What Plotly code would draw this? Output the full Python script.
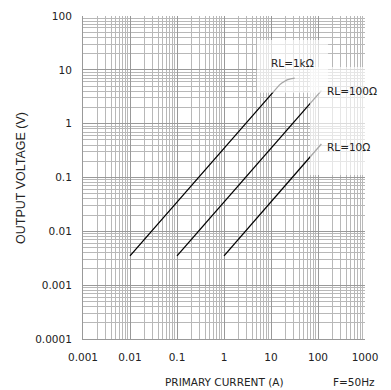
import plotly.graph_objects as go

# Data
x_1k = [0.01, 0.1, 1, 10, 11.5, 13, 15, 17, 19.5, 22, 26, 32]
y_1k = [0.0035, 0.035, 0.35, 3.6, 4.1, 4.6, 5.2, 5.7, 6.1, 6.5, 6.8, 7.0]

x_100 = [0.1, 1, 10, 90, 100, 110, 118]
y_100 = [0.0035, 0.035, 0.35, 3.15, 3.5, 3.85, 4.1]

x_10 = [1, 10, 100, 110, 118]
y_10 = [0.0035, 0.035, 0.35, 0.39, 0.42]

x_ticks = [0.001, 0.01, 0.1, 1, 10, 100, 1000]
x_ticktext = ["0.001", "0.01", "0.1", "1", "10", "100", "1000"]
y_ticks = [0.0001, 0.001, 0.01, 0.1, 1, 10, 100]
y_ticktext = ["0.0001", "0.001", "0.01", "0.1", "1", "10", "100"]

labels = ["RL=1kΩ", "RL=100Ω", "RL=10Ω"]

FONT = "DejaVu Sans"
TXT = "#222222"
fig = go.Figure()
for xs, ys in [(x_1k, y_1k), (x_100, y_100), (x_10, y_10)]:
    fig.add_trace(go.Scatter(x=xs, y=ys, mode="lines",
                             line=dict(color="black", width=1.3),
                             showlegend=False, hoverinfo="skip"))

axis_common = dict(type="log", showline=True, linecolor="#999999", linewidth=1, mirror=False,
                   showgrid=True, gridcolor="#999999", gridwidth=1, zeroline=False, automargin=False,
                   ticks="", tickfont=dict(family=FONT, size=10.5, color=TXT),
                   minor=dict(showgrid=True, gridcolor="#b8b8b8", gridwidth=1, dtick="D1", ticks=""))

fig.update_xaxes(**axis_common, range=[-3, 3], tickvals=x_ticks, ticktext=x_ticktext,
                 ticklabelstandoff=8)
fig.update_yaxes(**axis_common, range=[-4, 2], tickvals=y_ticks, ticktext=y_ticktext,
                 ticklabelstandoff=8)

# faint label backgrounds
fig.add_shape(type="rect", xref="paper", yref="paper", x0=0.617, x1=0.869, y0=0.762, y1=0.926,
              fillcolor="rgba(255,255,255,0.65)", line=dict(width=0), layer="above")
fig.add_shape(type="rect", xref="paper", yref="paper", x0=0.805, x1=1.06, y0=0.508, y1=0.842,
              fillcolor="rgba(255,255,255,0.65)", line=dict(width=0), layer="above")

fig.add_annotation(x=1.45, y=1.13, xref="x", yref="y", text=labels[0], showarrow=False,
                   font=dict(family=FONT, size=10.5, color=TXT), xanchor="center")
fig.add_annotation(x=2.15, y=0.61, xref="x", yref="y", text=labels[1], showarrow=False,
                   font=dict(family=FONT, size=10.5, color=TXT), xanchor="left")
fig.add_annotation(x=2.15, y=-0.43, xref="x", yref="y", text=labels[2], showarrow=False,
                   font=dict(family=FONT, size=10.5, color=TXT), xanchor="left")

# axis titles and frequency note (paper coords from pixel positions)
def px(x):
    return (x - 83) / 282

def py(y):
    return (339 - y) / 323

fig.add_annotation(x=px(224), y=py(382), xref="paper", yref="paper", text="PRIMARY CURRENT (A)",
                   showarrow=False, font=dict(family=FONT, size=10.5, color=TXT),
                   xanchor="center", yanchor="middle")
fig.add_annotation(x=px(377), y=py(382), xref="paper", yref="paper", text="F=50Hz",
                   showarrow=False, font=dict(family=FONT, size=10.5, color=TXT),
                   xanchor="right", yanchor="middle")
fig.add_annotation(x=px(21), y=py(178), xref="paper", yref="paper", text="OUTPUT VOLTAGE (V)",
                   showarrow=False, textangle=-90, font=dict(family="Liberation Sans", size=12.5, color=TXT),
                   xanchor="center", yanchor="middle")

fig.update_layout(width=391, height=390, margin=dict(l=83, r=26, t=16, b=51, autoexpand=False),
                  plot_bgcolor="white", paper_bgcolor="white",
                  font=dict(family=FONT, size=10))

fig.write_html("out.html", config={"displayModeBar": False},
               post_script="document.body.style.margin='0';document.body.style.overflow='hidden';")
